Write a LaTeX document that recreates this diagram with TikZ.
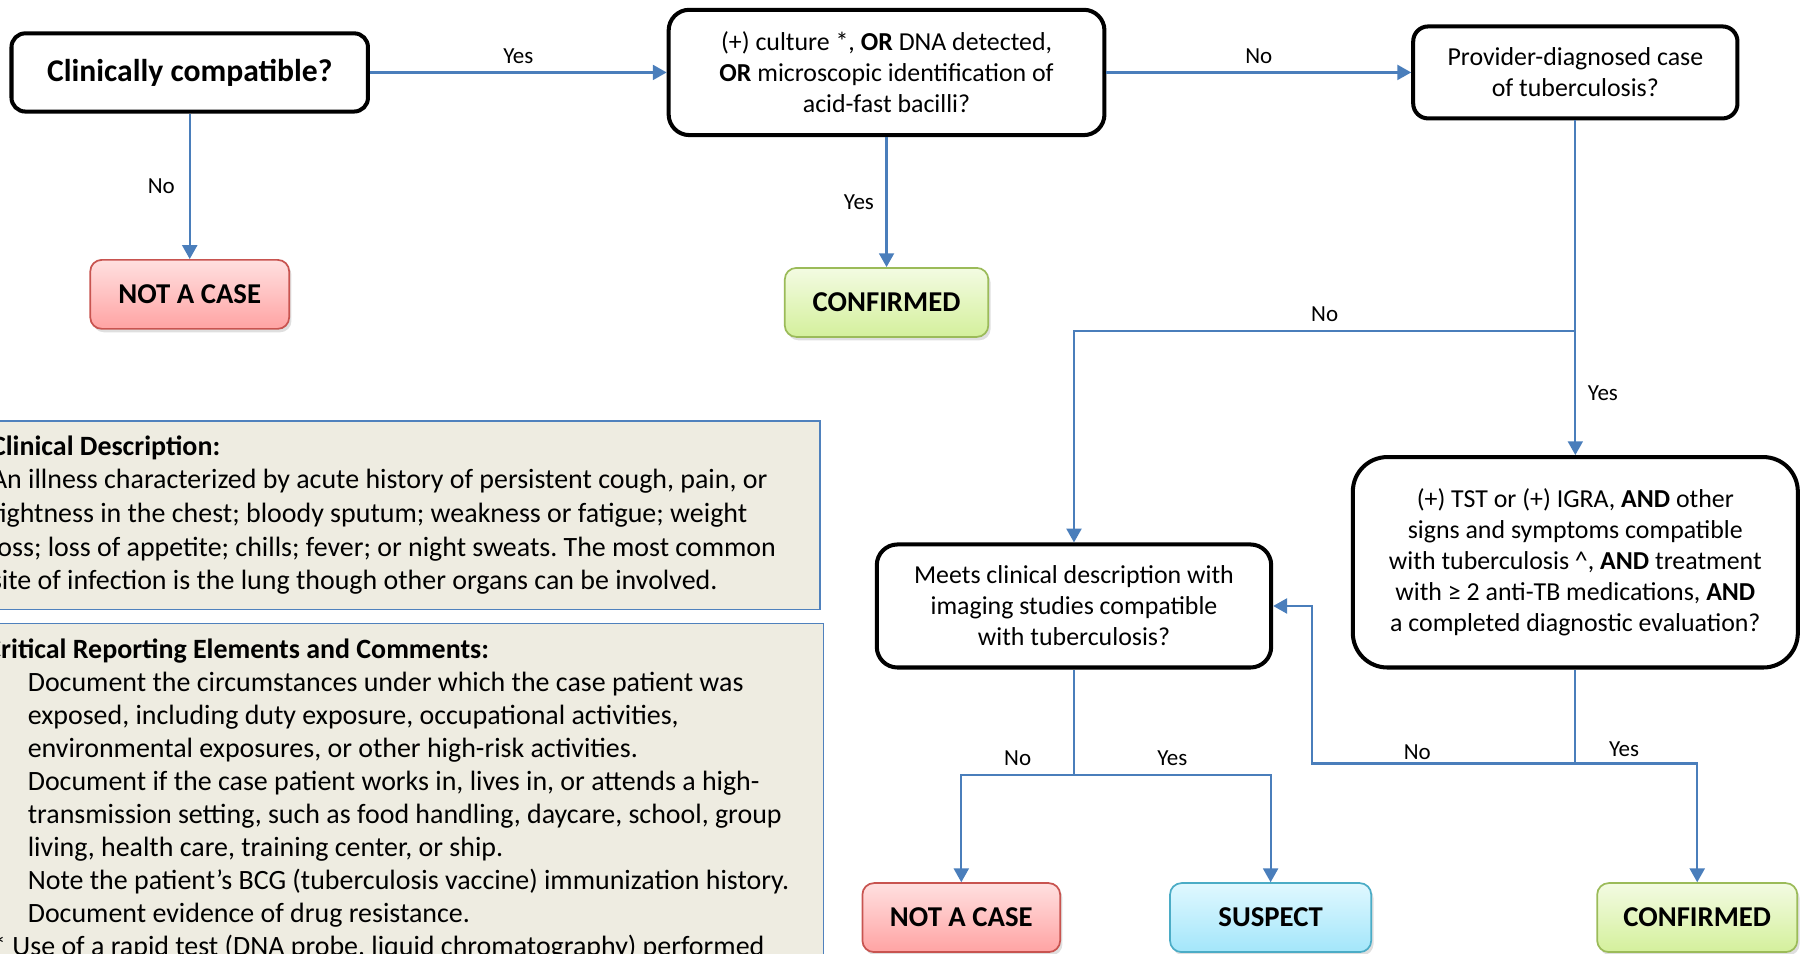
\documentclass[tikz,border=0pt]{standalone}
\usepackage{fontspec}
\setmainfont{Carlito}
\usepackage{tikz}
\usetikzlibrary{arrows.meta, positioning, shadows}
\frenchspacing
\definecolor{lineblue}{HTML}{4A7EBB}
\definecolor{panelfill}{HTML}{EEECE1}
\definecolor{panelline}{HTML}{4F81BD}
\definecolor{redtop}{HTML}{FFE0E0}
\definecolor{redbot}{HTML}{FFA3A3}
\definecolor{redline}{HTML}{C85450}
\definecolor{cyantop}{HTML}{E0F8FF}
\definecolor{cyanbot}{HTML}{A3E6FA}
\definecolor{cyanline}{HTML}{4BACC6}
\definecolor{greentop}{HTML}{F3FBE2}
\definecolor{greenbot}{HTML}{D4F09C}
\definecolor{greenline}{HTML}{9BBB59}
\tikzstyle{question} = [rectangle, draw=black, line width=3.5pt, fill=white, align=center, font=\fontsize{22.5}{27}\selectfont]
\tikzstyle{outcome} = [rectangle, rounded corners=10pt, line width=1.5pt, minimum height=60, font=\bfseries\fontsize{25}{30}\selectfont, drop shadow={opacity=0.25, shadow xshift=2pt, shadow yshift=-3pt}]
\tikzstyle{nocase} = [outcome, draw=redline, top color=redtop, bottom color=redbot]
\tikzstyle{suspectbox} = [outcome, draw=cyanline, top color=cyantop, bottom color=cyanbot]
\tikzstyle{confirmbox} = [outcome, draw=greenline, top color=greentop, bottom color=greenbot]
\tikzstyle{arrow} = [line width=1.9pt, draw=lineblue, -{Triangle[width=13pt,length=12pt]}]
\tikzstyle{line} = [line width=1.9pt, draw=lineblue]
\tikzstyle{lbl} = [font=\fontsize{20}{24}\selectfont, inner sep=2pt]
\tikzstyle{panel} = [draw=panelline, fill=panelfill, line width=1.2pt]
\tikzstyle{paneltext} = [anchor=base west, align=left, inner sep=0pt]
\newcommand{\ind}{\hspace*{36pt}}

\begin{document}
\begin{tikzpicture}[x=1pt, y=-1pt]
	\useasboundingbox (0,0) rectangle (1568,829);
	\clip (0,0) rectangle (1568,829);

	% first row
	\node (clin) [question, rounded corners=12pt, minimum width=310, minimum height=68, font=\bfseries\fontsize{27.5}{32}\selectfont] at (165,63) {Clinically compatible?};
	\node (test) [question, rounded corners=18pt, minimum width=379, minimum height=109] at (771,63) {(+) culture *, \textbf{OR} DNA detected,\\ \textbf{OR} microscopic identification of\\ acid-fast bacilli?};
	\node (prov) [question, rounded corners=13pt, minimum width=282, minimum height=80] at (1370,63) {Provider-diagnosed case\\ of tuberculosis?};
	\node (notcaseA) [nocase, minimum width=173] at (165,256) {NOT A CASE};
	\node (confirmA) [confirmbox, minimum width=177] at (771,263) {CONFIRMED};

	% second row
	\node (meets) [question, rounded corners=18pt, minimum width=343, minimum height=107] at (934,527) {Meets clinical description with\\ imaging studies compatible\\ with tuberculosis?};
	\node (crit) [question, rounded corners=30pt, minimum width=387, minimum height=183] at (1370,489) {(+) TST or (+) IGRA, \textbf{AND} other\\ signs and symptoms compatible\\ with tuberculosis \textasciicircum, \textbf{AND} treatment\\ with ≥ 2 anti-TB medications, \textbf{AND}\\ a completed diagnostic evaluation?};
	\node (notcaseB) [nocase, minimum width=172] at (836,798) {NOT A CASE};
	\node (suspect) [suspectbox, minimum width=175] at (1105,798) {SUSPECT};
	\node (confirmB) [confirmbox, minimum width=174] at (1476,798) {CONFIRMED};

	% panels
	\draw[panel] (-10,366) rectangle (713,530);
	\node (descr) [paneltext, font=\fontsize{24.3}{29.3}\selectfont] at (-8,513) {\textbf{Clinical Description:}\\
		An illness characterized by acute history of persistent cough, pain, or\\
		tightness in the chest; bloody sputum; weakness or fatigue; weight\\
		loss; loss of appetite; chills; fever; or night sweats. The most common\\
		site of infection is the lung though other organs can be involved.};
	\draw[panel] (-10,542) rectangle (716,850);
	\node (notes) [paneltext, font=\fontsize{24.3}{28.7}\selectfont] at (-12,831) {\textbf{Critical Reporting Elements and Comments:}\\
		\ind Document the circumstances under which the case patient was\\
		\ind exposed, including duty exposure, occupational activities,\\
		\ind environmental exposures, or other high-risk activities.\\
		\ind Document if the case patient works in, lives in, or attends a high-\\
		\ind transmission setting, such as food handling, daycare, school, group\\
		\ind living, health care, training center, or ship.\\
		\ind Note the patient’s BCG (tuberculosis vaccine) immunization history.\\
		\ind Document evidence of drug resistance.\\
		\hspace*{5pt}* Use of a rapid test (DNA probe, liquid chromatography) performed};

	% connectors
	\draw[arrow] (clin) -- node[lbl, above=5pt] {Yes} (test);
	\draw[arrow] (clin) -- node[lbl, left=10pt] {No} (notcaseA);
	\draw[arrow] (test) -- node[lbl, above=5pt] {No} (prov);
	\draw[arrow] (test) -- node[lbl, left=8pt] {Yes} (confirmA);

	\coordinate (split1) at (1370,288);
	\draw[line] (prov) -- (split1);
	\draw[arrow] (split1) -| node[lbl, pos=0.25, above=5pt] {No} (meets.north);
	\draw[arrow] (split1) -- node[lbl, right=8pt] {Yes} (crit);

	\coordinate (split2) at (1370,664);
	\coordinate (back) at (1141,527);
	\draw[line] (crit) -- (split2);
	\draw[arrow] (split2) -| node[lbl, pos=0.3, above=0pt] {No} (back) -- (meets.east);
	\draw[arrow] (split2) -| node[lbl, pos=0.2, above=3pt] {Yes} (confirmB.north);

	\coordinate (split3) at (934,674);
	\draw[line] (meets) -- (split3);
	\draw[arrow] (split3) -| node[lbl, pos=0.25, above=5pt] {No} (notcaseB.north);
	\draw[arrow] (split3) -| node[lbl, pos=0.25, above=5pt] {Yes} (suspect.north);
\end{tikzpicture}
\end{document}
